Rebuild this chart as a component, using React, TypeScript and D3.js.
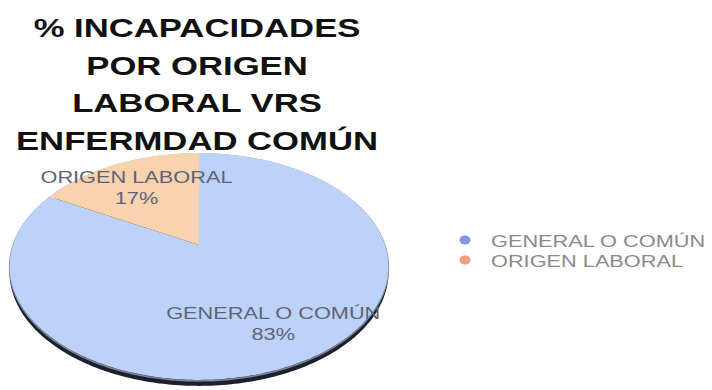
import React from "react";
import * as d3 from "d3";

const categories = ["GENERAL O COMÚN", "ORIGEN LABORAL"];
const values = [83, 17];
const percentLabels = ["83%", "17%"];
const titleLines = ["% INCAPACIDADES", "POR ORIGEN", "LABORAL VRS", "ENFERMDAD COMÚN"];
const sliceColors = ["#bdd2f9", "#f9d3ad"];
const legendColors = ["#7f98e0", "#f29c7e"];

const W = 712;
const H = 390;
const SX = 1.36; // horizontal stretch of the original image

const cx = 199;
const cy = 245;
const A = 186;
const B = 109.4;
const K = 0.189;

function project(angle: number, r: number): [number, number] {
  const u = Math.sin(angle) * r;
  const v = -Math.cos(angle) * r;
  const d = 1 - K * v;
  return [cx + (A * u) / d, cy + (B * v) / d];
}

export default function App() {
  const pie = d3.pie<number>().sort(null).value((d) => d);
  const arcs = pie(values);
  const line = d3.line<[number, number]>().curve(d3.curveLinear);

  const slicePath = (a0: number, a1: number) => {
    const n = Math.max(8, Math.ceil(((a1 - a0) / (Math.PI * 2)) * 360));
    const pts: [number, number][] = [[cx, cy]];
    d3.range(n + 1).forEach((i) => pts.push(project(a0 + ((a1 - a0) * i) / n, 1)));
    return line(pts) + "Z";
  };
  const fullPts: [number, number][] = d3.range(361).map((i) => project((i / 360) * Math.PI * 2, 1));
  const fullPath = line(fullPts) + "Z";

  const titleY = d3.scaleLinear().domain([0, 1]).range([37, 74.7]);
  const legendY = d3.scaleLinear().domain([0, 1]).range([240, 260]);
  const labelR = [0.72, 0.7];

  return (
    <svg width={W} height={H} style={{ position: "absolute", left: 0, top: 0, background: "#fff" }}>
      {titleLines.map((t, i) => (
        <text
          key={i}
          transform={`translate(197,${titleY(i)}) scale(${SX},1)`}
          textAnchor="middle"
          fontFamily="Liberation Sans, Arial, sans-serif"
          fontWeight="bold"
          fontSize={25.5}
          fill="#111"
        >
          {t}
        </text>
      ))}
      {/* 3D rim */}
      <path d={fullPath} transform="translate(0,6)" fill="#1b202c" />
      <path d={fullPath} transform="translate(0,1)" fill="none" stroke="#7d869a" strokeWidth={1.5} />
      {arcs.map((a, i) => (
        <path key={i} d={slicePath(a.startAngle, a.endAngle)} fill={sliceColors[i]} />
      ))}
      {arcs.map((a, i) => {
        const [lx, ly] = project((a.startAngle + a.endAngle) / 2, labelR[i]);
        return (
          <g key={i} fontFamily="Liberation Sans, Arial, sans-serif" fontSize={16} fill="#5d6476" textAnchor="middle">
            <text transform={`translate(${lx - 3},${ly - 3}) scale(${SX},1)`}>{categories[i]}</text>
            <text transform={`translate(${lx - 3},${ly + 18}) scale(${SX},1)`}>{percentLabels[i]}</text>
          </g>
        );
      })}
      {categories.map((c, i) => (
        <g key={i}>
          <ellipse cx={465} cy={legendY(i)} rx={5.5} ry={4.5} fill={legendColors[i]} />
          <text
            transform={`translate(491,${legendY(i) + 6.5}) scale(${SX},1)`}
            fontFamily="Liberation Sans, Arial, sans-serif"
            fontSize={16}
            fill="#8a8a8a"
          >
            {c}
          </text>
        </g>
      ))}
    </svg>
  );
}
